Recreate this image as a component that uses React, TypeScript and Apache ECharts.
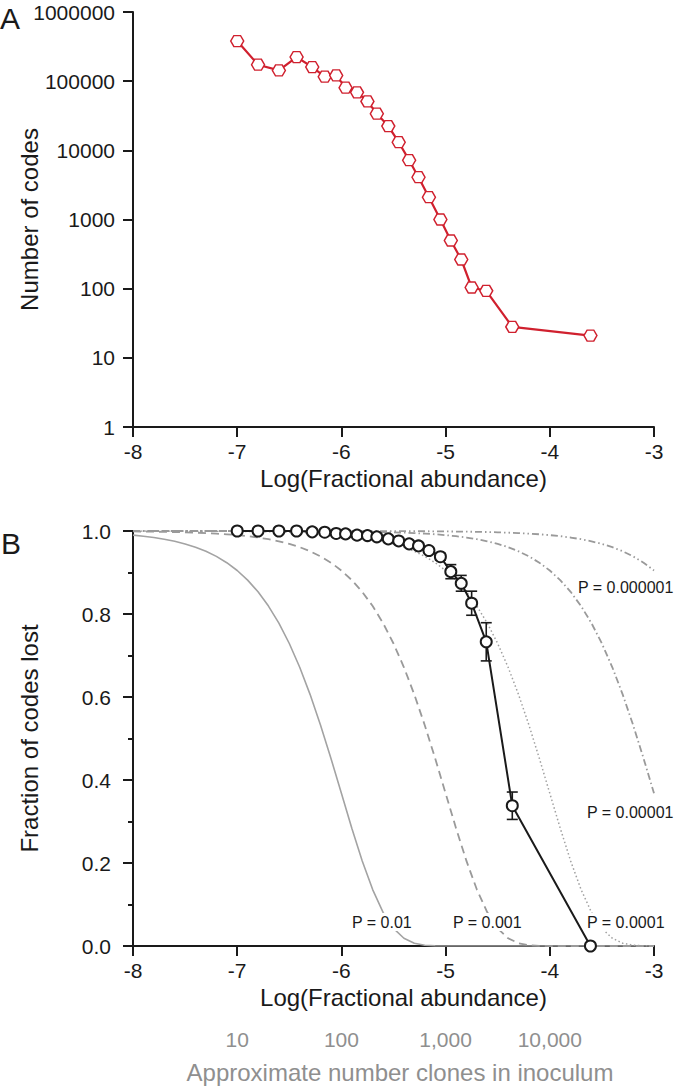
import React, { useEffect, useRef } from "react";
import * as echarts from "echarts";

// ---- data ----
const logAbundance = [-7.0, -6.8, -6.6, -6.43, -6.28, -6.16, -6.05, -5.96, -5.85, -5.75, -5.66, -5.55, -5.45, -5.35, -5.26, -5.16, -5.05, -4.95, -4.85, -4.75, -4.61, -4.36, -3.61];
const numberOfCodes = [380000, 173000, 143000, 223000, 160000, 116000, 121000, 80500, 68900, 51000, 33900, 22400, 13100, 7210, 4090, 2100, 1000, 497, 264, 104, 93, 28, 21];
const fractionLost = [1.0, 1.0, 1.0, 1.0, 0.998, 0.997, 0.994, 0.993, 0.99, 0.989, 0.986, 0.981, 0.976, 0.969, 0.964, 0.953, 0.938, 0.902, 0.874, 0.826, 0.733, 0.338, 0.0];
const fractionLostErr = [0, 0, 0, 0, 0, 0, 0, 0, 0, 0, 0, 0, 0, 0, 0, 0, 0.008, 0.017, 0.019, 0.029, 0.046, 0.033, 0];

const curveX = [-8, -7.9, -7.8, -7.7, -7.6, -7.5, -7.4, -7.3, -7.2, -7.1, -7, -6.9, -6.8, -6.7, -6.6, -6.5, -6.4, -6.3, -6.2, -6.1, -6, -5.9, -5.8, -5.7, -5.6, -5.5, -5.4, -5.3, -5.2, -5.1, -5, -4.9, -4.8, -4.7, -4.6, -4.5, -4.4, -4.3, -4.2, -4.1, -4, -3.9, -3.8, -3.7, -3.6, -3.5, -3.4, -3.3, -3.2, -3.1, -3];
const curveP0_01 = [0.99, 0.9875, 0.9843, 0.9802, 0.9752, 0.9689, 0.961, 0.9511, 0.9388, 0.9236, 0.9048, 0.8817, 0.8534, 0.8191, 0.7779, 0.7289, 0.6716, 0.6058, 0.5321, 0.4519, 0.3679, 0.2839, 0.205, 0.136, 0.0811, 0.0423, 0.0187, 0.0067, 0.0018, 0.0004, 0, 0, 0, 0, 0, 0, 0, 0, 0, 0, 0, 0, 0, 0, 0, 0, 0, 0, 0, 0, 0];
const curveP0_001 = [0.999, 0.9987, 0.9984, 0.998, 0.9975, 0.9968, 0.996, 0.995, 0.9937, 0.9921, 0.99, 0.9875, 0.9843, 0.9802, 0.9752, 0.9689, 0.961, 0.9511, 0.9388, 0.9236, 0.9048, 0.8817, 0.8534, 0.8191, 0.7779, 0.7289, 0.6716, 0.6058, 0.5321, 0.4519, 0.3679, 0.2839, 0.205, 0.136, 0.0811, 0.0423, 0.0187, 0.0067, 0.0018, 0.0004, 0, 0, 0, 0, 0, 0, 0, 0, 0, 0, 0];
const curveP0_0001 = [0.9999, 0.9999, 0.9998, 0.9998, 0.9997, 0.9997, 0.9996, 0.9995, 0.9994, 0.9992, 0.999, 0.9987, 0.9984, 0.998, 0.9975, 0.9968, 0.996, 0.995, 0.9937, 0.9921, 0.99, 0.9875, 0.9843, 0.9802, 0.9752, 0.9689, 0.961, 0.9511, 0.9388, 0.9236, 0.9048, 0.8817, 0.8534, 0.8191, 0.7779, 0.7289, 0.6716, 0.6058, 0.5321, 0.4519, 0.3679, 0.2839, 0.205, 0.136, 0.0811, 0.0423, 0.0187, 0.0067, 0.0018, 0.0004, 0];
const curveP0_00001 = [1, 1, 1, 1, 1, 1, 1, 1, 1, 1, 0.9999, 0.9999, 0.9998, 0.9998, 0.9997, 0.9997, 0.9996, 0.9995, 0.9994, 0.9992, 0.999, 0.9987, 0.9984, 0.998, 0.9975, 0.9968, 0.996, 0.995, 0.9937, 0.9921, 0.99, 0.9875, 0.9843, 0.9802, 0.9752, 0.9689, 0.961, 0.9511, 0.9388, 0.9236, 0.9048, 0.8817, 0.8534, 0.8191, 0.7779, 0.7289, 0.6716, 0.6058, 0.5321, 0.4519, 0.3679];
const curveP0_000001 = [1, 1, 1, 1, 1, 1, 1, 1, 1, 1, 1, 1, 1, 1, 1, 1, 1, 1, 1, 1, 0.9999, 0.9999, 0.9998, 0.9998, 0.9997, 0.9997, 0.9996, 0.9995, 0.9994, 0.9992, 0.999, 0.9987, 0.9984, 0.998, 0.9975, 0.9968, 0.996, 0.995, 0.9937, 0.9921, 0.99, 0.9875, 0.9843, 0.9802, 0.9752, 0.9689, 0.961, 0.9511, 0.9388, 0.9236, 0.9048];

const curveLabels = ["P = 0.01", "P = 0.001", "P = 0.0001", "P = 0.00001", "P = 0.000001"];
const cloneTickValues = [-7, -6, -5, -4];
const cloneTickLabels = ["10", "100", "1,000", "10,000"];

const FONT = '"Liberation Sans", Arial, Helvetica, sans-serif';
const INK = "#1a1a1a";
const RED = "#d0202e";
const GRAY = "#8f8f8f";

const zip = (xs: number[], ys: number[]) => xs.map((x, i) => [x, ys[i]]);

export default function App() {
  const ref = useRef<HTMLDivElement>(null);
  useEffect(() => {
    document.body.style.margin = "0";
    const chart = echarts.init(ref.current!, undefined, { renderer: "svg" });

    const baseX = (gridIndex: number, gap: number) => ({
      type: "value",
      gridIndex,
      min: -8,
      max: -3,
      interval: 1,
      name: "Log(Fractional abundance)",
      nameLocation: "middle",
      nameGap: gap,
      nameMoveOverlap: false,
      nameTextStyle: { fontFamily: FONT, fontSize: 24, color: INK, padding: [0, 0, 0, 20] },
      axisLine: { show: true, onZero: false, lineStyle: { color: INK, width: 2 } },
      axisTick: { show: true, length: 10, lineStyle: { color: INK, width: 2 } },
      axisLabel: { fontFamily: FONT, fontSize: 21, color: INK, margin: 14 },
      splitLine: { show: false },
    });

    const curveStyles: any[] = [
      { type: "solid", width: 1.6, color: "#a3a3a3" },
      { type: [8, 5], width: 1.8, color: "#9a9a9a" },
      { type: [1.5, 2.5], width: 1.5, color: "#a0a0a0" },
      { type: [7, 3, 1.5, 3], width: 1.8, color: "#9a9a9a" },
      { type: [7, 3, 1.5, 3, 1.5, 3], width: 1.8, color: "#9a9a9a" },
    ];
    const curves = [curveP0_01, curveP0_001, curveP0_0001, curveP0_00001, curveP0_000001];

    const labelPos = [
      [351, 922],
      [452, 922],
      [586, 922],
      [586, 812],
      [577, 587],
    ];

    const option: any = {
      animation: false,
      backgroundColor: "#fff",
      grid: [
        { left: 133, top: 12, width: 521, height: 415, outerBoundsMode: "none" },
        { left: 133, top: 531, width: 521, height: 415, outerBoundsMode: "none" },
      ],
      xAxis: [
        baseX(0, 39),
        baseX(1, 39),
        {
          type: "value",
          gridIndex: 1,
          min: -8,
          max: -3,
          interval: 1,
          position: "bottom",
          offset: 83,
          name: "Approximate number clones in inoculum",
          nameLocation: "middle",
          nameGap: 31,
          nameMoveOverlap: false,
          nameTextStyle: { fontFamily: FONT, fontSize: 24, color: GRAY, padding: [0, 0, 0, 13] },
          axisLine: { show: false, onZero: false },
          axisTick: { show: false },
          axisLabel: {
            fontFamily: FONT,
            fontSize: 21,
            color: GRAY,
            margin: 0,
            formatter: (v: number) => {
              const i = cloneTickValues.indexOf(Math.round(v));
              return i >= 0 ? cloneTickLabels[i] : "";
            },
          },
          splitLine: { show: false },
        },
      ],
      yAxis: [
        {
          type: "log",
          gridIndex: 0,
          logBase: 10,
          min: 1,
          max: 1000000,
          splitNumber: 6,
          name: "Number of codes",
          nameLocation: "middle",
          nameGap: 92,
          nameMoveOverlap: false,
          nameTextStyle: { fontFamily: FONT, fontSize: 24, color: INK },
          axisLine: { show: true, onZero: false, lineStyle: { color: INK, width: 2 } },
          axisTick: { show: true, length: 10, lineStyle: { color: INK, width: 2 } },
          axisLabel: {
            fontFamily: FONT,
            fontSize: 21,
            color: INK,
            margin: 18,
            formatter: (v: number) => String(Math.round(v)),
          },
          splitLine: { show: false },
        },
        {
          type: "value",
          gridIndex: 1,
          min: 0,
          max: 1,
          interval: 0.2,
          name: "Fraction of codes lost",
          nameLocation: "middle",
          nameGap: 92,
          nameMoveOverlap: false,
          nameTextStyle: { fontFamily: FONT, fontSize: 24, color: INK },
          axisLine: { show: true, onZero: false, lineStyle: { color: INK, width: 2 } },
          axisTick: { show: true, length: 10, lineStyle: { color: INK, width: 2 } },
          minorTick: { show: true, splitNumber: 2, length: 5, lineStyle: { color: INK, width: 2 } },
          axisLabel: {
            fontFamily: FONT,
            fontSize: 21,
            color: INK,
            margin: 22,
            formatter: (v: number) => v.toFixed(1),
          },
          splitLine: { show: false },
        },
      ],
      series: [
        {
          type: "line",
          xAxisIndex: 0,
          yAxisIndex: 0,
          data: zip(logAbundance, numberOfCodes),
          symbol: "path://M0,5.5 L3.2,0 L9.8,0 L13,5.5 L9.8,11 L3.2,11 Z",
          symbolSize: [13, 11],
          showAllSymbol: true,
          lineStyle: { color: RED, width: 2.2 },
          itemStyle: { color: "#fff", borderColor: RED, borderWidth: 1.4 },
          z: 5,
        },
        ...curves.map((c, k) => ({
          type: "line",
          xAxisIndex: 1,
          yAxisIndex: 1,
          data: zip(curveX, c),
          symbol: "none",
          lineStyle: curveStyles[k],
          z: 2,
        })),
        {
          type: "custom",
          xAxisIndex: 1,
          yAxisIndex: 1,
          coordinateSystem: "cartesian2d",
          data: logAbundance.map((x, i) => [x, fractionLost[i], fractionLostErr[i]]),
          encode: { x: 0, y: 1 },
          renderItem: (params: any, api: any) => {
            const x = api.value(0);
            const y = api.value(1);
            const e = api.value(2);
            if (!e) return null;
            const top = api.coord([x, y + e]);
            const bot = api.coord([x, y - e]);
            const h = 5.5;
            const st = { stroke: INK, lineWidth: 1.6 };
            return {
              type: "group",
              children: [
                { type: "line", shape: { x1: top[0], y1: top[1], x2: bot[0], y2: bot[1] }, style: st },
                { type: "line", shape: { x1: top[0] - h, y1: top[1], x2: top[0] + h, y2: top[1] }, style: st },
                { type: "line", shape: { x1: bot[0] - h, y1: bot[1], x2: bot[0] + h, y2: bot[1] }, style: st },
              ],
            };
          },
          z: 6,
        },
        {
          type: "line",
          xAxisIndex: 1,
          yAxisIndex: 1,
          data: zip(logAbundance, fractionLost),
          symbol: "circle",
          symbolSize: 11,
          showAllSymbol: true,
          lineStyle: { color: INK, width: 2 },
          itemStyle: { color: "#fff", borderColor: INK, borderWidth: 2 },
          z: 7,
        },
      ],
      graphic: [
        { type: "text", x: 0, y: 18, z: 20, style: { text: "A", fill: INK, font: `30px ${FONT}`, verticalAlign: "middle", align: "left" } },
        { type: "text", x: 1, y: 543, z: 20, style: { text: "B", fill: INK, font: `30px ${FONT}`, verticalAlign: "middle", align: "left" } },
        ...curveLabels.map((t, k) => ({
          type: "text",
          x: labelPos[k][0],
          y: labelPos[k][1],
          z: 10,
          style: {
            text: t,
            fill: INK,
            font: `16px ${FONT}`,
            verticalAlign: "middle",
            align: "left",
            backgroundColor: "#fff",
            padding: [1, 1],
          },
        })),
      ],
    };
    chart.setOption(option);
    return () => chart.dispose();
  }, []);

  return <div ref={ref} style={{ position: "absolute", left: 0, top: 0, width: 677, height: 1087 }} />;
}
